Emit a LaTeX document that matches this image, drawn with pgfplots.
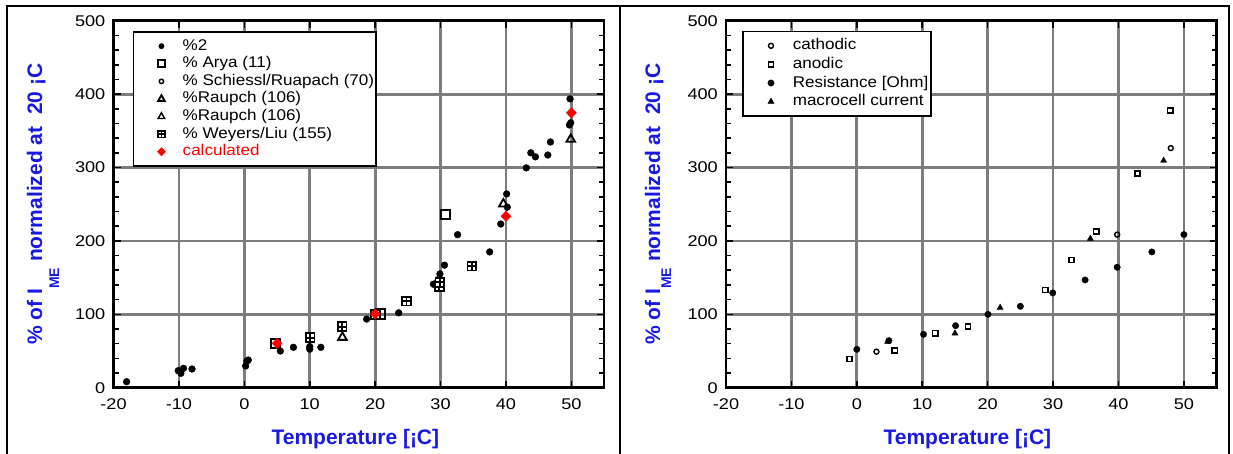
\documentclass[border=0pt]{standalone}
\usepackage{fontspec}
\setmainfont{Liberation Sans}
\usepackage{graphicx}
\usepackage{pgfplots}
\pgfplotsset{compat=1.18}
\definecolor{lblblue}{RGB}{25,25,230}
\definecolor{gridgray}{RGB}{125,125,125}
\newcommand\tl[1]{\scalebox{1.17}[1]{#1}}
\newcommand\lt[1]{\scalebox{1.1}[1]{#1}}
\pgfdeclareplotmark{weyers}{%
 \pgfpathrectangle{\pgfqpoint{-\pgfplotmarksize}{-\pgfplotmarksize}}{\pgfqpoint{2\pgfplotmarksize}{2\pgfplotmarksize}}%
 \pgfpathmoveto{\pgfqpoint{-\pgfplotmarksize}{0pt}}\pgfpathlineto{\pgfqpoint{\pgfplotmarksize}{0pt}}%
 \pgfpathmoveto{\pgfqpoint{0pt}{-\pgfplotmarksize}}\pgfpathlineto{\pgfqpoint{0pt}{\pgfplotmarksize}}%
 \pgfusepathqfillstroke}
\pgfplotsset{
 panel/.style={
  scale only axis, width=490.6pt, height=367pt,
  xmin=-20, xmax=55, ymin=0, ymax=500,
  xtick={-20,-10,...,50}, xticklabels={\tl{-20},\tl{-10},\tl{0},\tl{10},\tl{20},\tl{30},\tl{40},\tl{50}},
  ytick={0,100,...,500}, yticklabels={\tl{0},\tl{100},\tl{200},\tl{300},\tl{400},\tl{500}},
  minor y tick num=4,
  tick align=inside, xtick pos=both, ytick pos=both,
  major tick length=7pt, minor tick length=5pt,
  every tick/.style={black, line width=1.6pt},
  grid=major, major grid style={gridgray, line width=2.8pt},
  axis line style={line width=2.5pt},
  /pgf/number format/assume math mode=true,
  tick label style={font=\fontsize{15.5}{18}\selectfont, inner sep=0pt},
  yticklabel style={xshift=-8pt},
  xticklabel style={yshift=-10.5pt},
  label style={font=\fontsize{21}{24}\selectfont\bfseries, text=lblblue},
  xlabel={Temperature [¡C]},
  legend cell align=left,
 },
 pm/.style={only marks,
  legend image code/.code={\path (-13pt,-2pt) (32.6pt,2pt);\draw[mark repeat=2,mark phase=2,##1] plot coordinates {(0pt,0pt)(14pt,0pt)(32.6pt,0pt)};}},
}
\begin{document}
\begin{tikzpicture}
\useasboundingbox (0pt,0pt) rectangle (1233pt,453pt);
\draw[line width=2pt] (6.7pt,-5pt) -- (6.7pt,447pt) -- (1229.3pt,447pt) -- (1229.3pt,-5pt);
\draw[line width=2pt] (620pt,-5pt) -- (620pt,447pt);

\begin{axis}[panel, at={(113.5pt,65.3pt)}, anchor=south west,
  ylabel={\% of I\raisebox{-17pt}{\fontsize{14}{14}\selectfont ME} normalized at\ \ 20 ¡C},
  xlabel style={at={(axis description cs:0.493,-0.156)}, anchor=base},
  ylabel style={at={(axis description cs:-0.1457,0.5)}, anchor=base},
  legend style={at={(axis description cs:0.039,0.972)}, anchor=north west, draw=black, line width=1.8pt,
    inner xsep=0pt, inner ysep=5.5pt, font=\fontsize{15.5}{19}\selectfont,
    nodes={inner sep=1.8pt, text height=11pt, text depth=3pt}, row sep=0pt},
]
\addplot[pm, mark=*, mark size=3.4pt, mark options={fill=black, draw=black, line width=0.4pt},
  legend image post style={mark size=2.7pt}] coordinates {
(-18.0,8.2) (-10.1,23.2) (-9.7,19.6) (-9.3,26.4) (-8.0,25.5)
(0.2,29.6) (0.4,36.4) (0.6,37.7) (5.5,50) (7.5,55)
(10.0,52.5) (10.0,56) (11.7,55) (18.7,93.5) (23.6,102)
(28.9,141) (29.9,155) (30.6,167) (32.6,208.5) (37.5,185)
(39.2,223) (40.1,264) (40.2,246) (43.1,299.5) (43.8,320)
(44.5,314.5) (46.4,317) (46.8,334.7) (49.8,393.5) (49.9,361) (49.7,358)
};
\addlegendentry{\lt{\%2}}
\addplot[pm, mark=square, mark size=4.6pt, mark options={fill=white, draw=black, line width=2pt},
  legend image post style={mark size=3.3pt}] coordinates {
(4.8,60.4) (20.0,100) (20.8,100.3) (30.8,236.2)
};
\addlegendentry{\lt{\% Arya (11)}}
\addplot[pm, mark=o, mark size=2.4pt, mark options={fill=white, draw=black, line width=1.4pt},
  legend image post style={mark size=2.2pt}] coordinates {
(10.0,54)
};
\addlegendentry{\lt{\% Schiessl/Ruapach (70)}}
\addplot[pm, mark=triangle, mark size=5pt, mark options={fill=white, draw=black, line width=1.8pt},
  legend image post style={mark size=3.8pt}] coordinates {
(15,68.6) (39.6,250.3) (49.9,338.4)
};
\addlegendentry{\lt{\%Raupch (106)}}
\addplot[pm, mark=triangle, mark size=5pt, mark options={fill=white, draw=black, line width=1.4pt},
  legend image post style={mark size=3.8pt}] coordinates {
(29.8,149)
};
\addlegendentry{\lt{\%Raupch (106)}}
\addplot[pm, mark=weyers, mark size=4.4pt, mark options={fill=white, draw=black, line width=1.8pt},
  legend image post style={mark size=3.3pt}] coordinates {
(10.05,68) (14.95,83) (24.8,118) (29.8,137.6) (29.9,144) (34.8,165.8)
};
\addlegendentry{\lt{\% Weyers/Liu (155)}}
\addplot[pm, mark=diamond*, mark size=5.2pt, mark options={fill=red, draw=red, line width=0.3pt, xscale=1.3},
  legend image post style={mark size=4.2pt}] coordinates {
(5,60.4) (20,100.4) (40,233.5) (50,374.5)
};
\addlegendentry{\lt{\textcolor{red}{calculated}}}
\end{axis}

\begin{axis}[panel, at={(726pt,65.3pt)}, anchor=south west,
  ylabel={\% of I\raisebox{-11pt}{\fontsize{14}{14}\selectfont ME} normalized at\ \ 20 ¡C},
  xlabel style={at={(axis description cs:0.492,-0.156)}, anchor=base},
  ylabel style={at={(axis description cs:-0.1344,0.5)}, anchor=base},
  legend style={at={(axis description cs:0.033,0.973)}, anchor=north west, draw=black, line width=1.8pt,
    inner xsep=0pt, inner ysep=5pt, font=\fontsize{15.5}{19}\selectfont,
    nodes={inner sep=2.3pt, text height=11pt, text depth=3pt}, row sep=0pt},
]
\addplot[pm, mark=o, mark size=2.5pt, mark options={fill=white, draw=black, line width=1.4pt}] coordinates {
(3.0,49.1) (39.8,208.6) (48.0,326.4)
};
\addlegendentry{\lt{cathodic}}
\addplot[pm, mark=square, mark size=2.6pt, mark options={fill=white, draw=black, line width=1.5pt}] coordinates {
(-1.1,39.1) (5.8,50.5) (12.0,74.1) (17.0,83.2) (28.8,133.2)
(32.8,174.1) (36.6,212.7) (42.9,291.8) (47.9,377.7)
};
\addlegendentry{\lt{anodic}}
\addplot[pm, mark=*, mark size=3.2pt, mark options={fill=black, draw=black, line width=0.4pt}] coordinates {
(0,52.3) (4.9,64.1) (10.2,72.7) (15.1,84.5) (20.05,100)
(25.0,110.9) (29.95,129.1) (34.9,146.8) (39.8,164.1) (45.1,185) (50.0,208.6)
};
\addlegendentry{\lt{Resistance [Ohm]}}
\addplot[pm, mark=triangle*, mark size=3.5pt, mark options={fill=black, draw=black, line width=0.4pt}] coordinates {
(4.7,62.7) (15.0,74.1) (21.9,109.1) (35.7,203.2) (46.9,309.5)
};
\addlegendentry{\lt{macrocell current}}
\end{axis}
\end{tikzpicture}
\end{document}
